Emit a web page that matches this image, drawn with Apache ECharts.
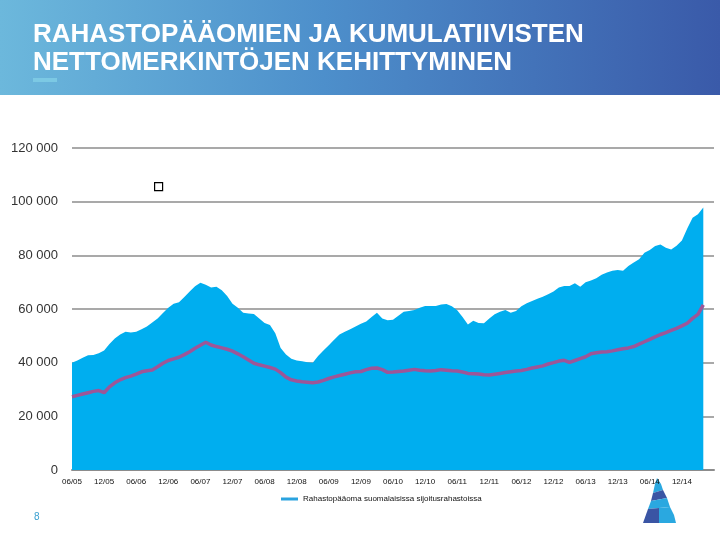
<!DOCTYPE html>
<html>
<head>
<meta charset="utf-8">
<script src="https://cdn.jsdelivr.net/npm/echarts@6/dist/echarts.min.js"></script>
<style>
  html, body { margin: 0; padding: 0; background: #fff; }
  #chart { width: 720px; height: 540px; }
</style>
</head>
<body>
<div id="chart"></div>
<script>
// kuukausittaiset arvot 06/2005 - 04/2015 (milj. euroa)
const startYear = 2005, startMonth = 6, extraMonths = 2;

const rahastopaaoma = [
  40000, 40800, 41800, 42800, 42900, 43500, 44500, 47000, 49000, 50500,
  51500, 51200, 51500, 52500, 53500, 55000, 56500, 58500, 60500, 62000,
  62500, 64500, 66500, 68500, 69800, 69000, 68000, 68300, 67000, 64800,
  62000, 60500, 58600, 58300, 58100, 56500, 54800, 54000, 51000, 45500,
  43000, 41500, 40800, 40500, 40200, 40000, 42500, 44500, 46500, 48500,
  50500, 51500, 52500, 53500, 54500, 55300, 57000, 58600, 56500, 55800,
  56000, 57500, 59000, 59300, 59600, 60500, 61100, 61100, 61100, 61700,
  61900, 61000, 59500, 57000, 54200, 55600, 54800, 54700, 56500, 58000,
  59000, 59600, 58600, 59300, 61000, 62100, 63000, 63800, 64600, 65500,
  66500, 68000, 68600, 68600, 69600, 68300, 70000, 70600, 71500, 72800,
  73600, 74300, 74500, 74300, 76000, 77300, 78500, 81000, 82000, 83500,
  84000, 82800, 82200, 83600, 85500, 90000, 94000, 95300, 97800
];

const kumulatiivisetMerkinnat = [
  27300, 27800, 28300, 28800, 29300, 29600, 28800, 31000, 32500, 33600,
  34400, 35000, 35700, 36600, 37000, 37300, 38500, 39800, 40800, 41400,
  42000, 43000, 44100, 45400, 46500, 47600, 46600, 46000, 45500, 45000,
  44300, 43300, 42200, 41000, 39800, 39200, 38700, 38200, 37600, 36300,
  34600, 33600, 33200, 32900, 32700, 32500, 32800, 33400, 34100, 34700,
  35200, 35700, 36200, 36600, 36700, 37400, 37900, 38000, 37400, 36400,
  36500, 36700, 36900, 37200, 37500, 37200, 37000, 36900, 37100, 37400,
  37200, 37000, 36900, 36500, 36000, 35900, 35800, 35500, 35400, 35700,
  36000, 36300, 36600, 36900, 37100, 37500, 38000, 38400, 38800, 39500,
  40000, 40600, 40900, 40100, 40800, 41500, 42200, 43300, 43700, 44000,
  44100, 44400, 44800, 45200, 45500, 46000, 46900, 47800, 48700, 49600,
  50500, 51200, 52000, 52800, 53700, 54700, 56500, 58000, 61500
];

const yTicks = [0, 20000, 40000, 60000, 80000, 100000, 120000];

// kuukausiotsikot muodossa KK/VV
const months = [];
for (let i = 0; i < rahastopaaoma.length + extraMonths; i++) {
  const m = (startMonth - 1 + i) % 12 + 1;
  const y = startYear + Math.floor((startMonth - 1 + i) / 12);
  months.push(String(m).padStart(2, '0') + '/' + String(y % 100).padStart(2, '0'));
}
const lastLabel = rahastopaaoma.length - 5; // 12/14
const showLabel = (idx) => idx % 6 === 0 && idx <= lastLabel;

const chart = echarts.init(document.getElementById('chart'));

const option = {
  backgroundColor: '#fff',
  animation: false,
  grid: { left: 72, right: 6, top: 148, bottom: 70 },
  legend: {
    data: ['Rahastopääoma suomalaisissa sijoitusrahastoissa'],
    left: 276, top: 490,
    icon: 'rect', itemWidth: 17, itemHeight: 3, itemGap: 4,
    textStyle: { fontSize: 8, color: '#111', fontFamily: 'Liberation Sans' }
  },
  xAxis: {
    type: 'category',
    data: months,
    boundaryGap: false,
    axisLine: { lineStyle: { color: '#8c8c8c', width: 2 } },
    axisTick: { show: true, inside: true, length: 3, interval: showLabel, lineStyle: { color: '#9a9a9a' } },
    axisLabel: {
      interval: showLabel,
      fontSize: 8, color: '#111', fontFamily: 'Liberation Sans', margin: 8
    }
  },
  yAxis: {
    type: 'value',
    min: yTicks[0], max: yTicks[yTicks.length - 1], interval: 20000,
    axisLine: { show: false },
    axisTick: { show: false },
    splitLine: { lineStyle: { color: '#8c8c8c', width: 1.5 } },
    axisLabel: {
      fontSize: 13, color: '#333', fontFamily: 'Liberation Sans', margin: 14,
      formatter: v => String(v).replace(/\B(?=(\d{3})+(?!\d))/g, ' ')
    }
  },
  series: [
    {
      name: 'Rahastopääoma suomalaisissa sijoitusrahastoissa',
      type: 'line',
      data: rahastopaaoma,
      symbol: 'none',
      color: '#2aa3df',
      lineStyle: { width: 0, color: '#00aeef' },
      areaStyle: { color: '#00aeef', opacity: 1 },
      z: 2
    },
    {
      name: 'Kumulatiiviset nettomerkinnät',
      type: 'line',
      data: kumulatiivisetMerkinnat,
      symbol: 'none',
      color: '#9d5698',
      lineStyle: { width: 3.5, color: '#9d5698' },
      z: 3
    }
  ],
  graphic: [
    {
      type: 'rect', left: 0, top: 0, z: 0,
      shape: { width: 720, height: 95 },
      style: {
        fill: new echarts.graphic.LinearGradient(0, 0, 1, 0, [
          { offset: 0, color: '#6cb8dc' },
          { offset: 0.45, color: '#4d8fcb' },
          { offset: 1, color: '#3a5aa9' }
        ])
      }
    },
    {
      type: 'text', left: 33, top: 21, z: 10,
      style: {
        text: 'RAHASTOPÄÄOMIEN JA KUMULATIIVISTEN\nNETTOMERKINTÖJEN KEHITTYMINEN',
        fill: '#fff', font: 'bold 26px "Liberation Sans"', lineHeight: 28
      }
    },
    {
      type: 'rect', left: 33, top: 78, z: 10,
      shape: { width: 24, height: 4 },
      style: { fill: '#7cc9e4' }
    },
    {
      type: 'rect', left: 154, top: 182, z: 10,
      shape: { width: 8, height: 8 },
      style: { fill: '#fff', stroke: '#000', lineWidth: 1.2 }
    },
    {
      type: 'text', left: 34, top: 512, z: 10,
      style: { text: '8', fill: '#3aa0d0', font: '10px "Liberation Sans"' }
    },
    {
      type: 'group', left: 643, top: 478, z: 10,
      children: [
        { type: 'polygon', shape: { points: [[14, 0], [18, 6], [20, 12], [10, 15], [12, 6]] }, style: { fill: '#2aa8e0' } },
        { type: 'polygon', shape: { points: [[10, 15], [20, 12], [24, 20], [8, 23]] }, style: { fill: '#3a55a4' } },
        { type: 'polygon', shape: { points: [[8, 23], [24, 20], [27, 29], [5, 31]] }, style: { fill: '#2aa8e0' } },
        { type: 'polygon', shape: { points: [[5, 31], [16, 30], [16, 45], [0, 45]] }, style: { fill: '#3a55a4' } },
        { type: 'polygon', shape: { points: [[16, 30], [27, 29], [31, 37], [33, 45], [16, 45]] }, style: { fill: '#2aa8e0' } }
      ]
    }
  ]
};

chart.setOption(option);
</script>
</body>
</html>
